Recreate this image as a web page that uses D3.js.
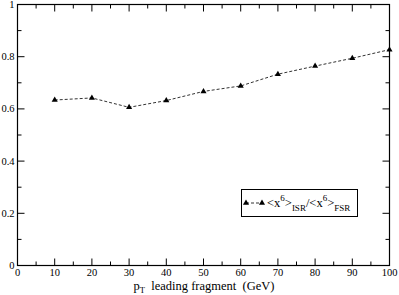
<!DOCTYPE html>
<html><head><meta charset="utf-8">
<script src="https://cdn.jsdelivr.net/npm/d3@7"></script>
<style>body{margin:0;background:#fff}svg{display:block}text{font-family:"Liberation Serif","Times New Roman",serif;fill:#000}</style>
</head><body><svg id="c" width="399" height="295"></svg>
<script>
const ptValues = [10,20,30,40,50,60,70,80,90,100];
const ratioValues = [0.634,0.642,0.606,0.632,0.667,0.688,0.733,0.764,0.794,0.827];
const xTicks = [0,10,20,30,40,50,60,70,80,90,100];
const yTicks = [0,0.2,0.4,0.6,0.8,1];
const yTickLabels = ["0","0.2","0.4","0.6","0.8","1"];

const svg = d3.select("#c");
const L=17.5,R=389.5,T=4.5,B=265.5;
const x = d3.scaleLinear().domain([0,100]).range([L,R]);
const y = d3.scaleLinear().domain([0,1]).range([B,T]);

const g = svg.append("g").attr("stroke","#000").attr("stroke-width",1);
g.append("rect").attr("x",L).attr("y",T).attr("width",R-L).attr("height",B-T).attr("fill","none").attr("stroke-width",1.2);

const xMinor = d3.range(5,100,10), yMinor = d3.range(0.1,1,0.2);
xTicks.forEach(v=>{g.append("line").attr("x1",x(v)).attr("x2",x(v)).attr("y1",B).attr("y2",B-7);
  g.append("line").attr("x1",x(v)).attr("x2",x(v)).attr("y1",T).attr("y2",T+7);});
xMinor.forEach(v=>{g.append("line").attr("x1",x(v)).attr("x2",x(v)).attr("y1",B).attr("y2",B-4);
  g.append("line").attr("x1",x(v)).attr("x2",x(v)).attr("y1",T).attr("y2",T+4);});
yTicks.forEach(v=>{g.append("line").attr("y1",y(v)).attr("y2",y(v)).attr("x1",L).attr("x2",L+7);
  g.append("line").attr("y1",y(v)).attr("y2",y(v)).attr("x1",R).attr("x2",R-7);});
yMinor.forEach(v=>{g.append("line").attr("y1",y(v)).attr("y2",y(v)).attr("x1",L).attr("x2",L+4);
  g.append("line").attr("y1",y(v)).attr("y2",y(v)).attr("x1",R).attr("x2",R-4);});

svg.selectAll(".xl").data(xTicks).enter().append("text").attr("x",d=>x(d)).attr("y",B+10)
  .attr("text-anchor","middle").attr("font-size",10.5).text(d=>d);
svg.selectAll(".yl").data(yTicks).enter().append("text").attr("x",L-3).attr("y",(d)=>y(d)+3.5)
  .attr("text-anchor","end").attr("font-size",10.5).text((d,i)=>yTickLabels[i]);

const lab = svg.append("text").attr("x",204).attr("y",289.5).attr("text-anchor","middle").attr("font-size",12.5);
lab.append("tspan").text("p");
lab.append("tspan").attr("font-size",8.5).attr("dy",3).text("T");
lab.append("tspan").attr("dy",-3).text("\u00a0 leading fragment \u00a0(GeV)");

const line = d3.line().x((d,i)=>x(ptValues[i])).y(d=>y(d));
svg.append("path").datum(ratioValues).attr("d",line).attr("fill","none").attr("stroke","#333").attr("stroke-width",1).attr("stroke-dasharray","3,2");
const tri = d3.symbol().type(d3.symbolTriangle).size(16);
svg.selectAll(".m").data(ratioValues).enter().append("path").attr("d",tri)
  .attr("transform",(d,i)=>`translate(${x(ptValues[i])},${y(d)})`).attr("fill","#000");

// legend
svg.append("rect").attr("x",241.5).attr("y",189.5).attr("width",116).attr("height",27).attr("fill","#fff").attr("stroke","#000");
svg.append("line").attr("x1",246).attr("x2",262).attr("y1",203).attr("y2",203).attr("stroke","#333").attr("stroke-dasharray","3,2");
[246,262].forEach(px=>svg.append("path").attr("d",tri).attr("transform",`translate(${px},203)`).attr("fill","#000"));
const lt = svg.append("text").attr("x",267).attr("y",207).attr("font-size",12.5);
lt.append("tspan").text("<x");
lt.append("tspan").attr("font-size",9).attr("dy",-6).text("6");
lt.append("tspan").attr("dy",6).text(">");
lt.append("tspan").attr("font-size",9).attr("dy",4).text("ISR");
lt.append("tspan").attr("dy",-4).text("/<x");
lt.append("tspan").attr("font-size",9).attr("dy",-6).text("6");
lt.append("tspan").attr("dy",6).text(">");
lt.append("tspan").attr("font-size",9).attr("dy",4).text("FSR");
</script></body></html>
